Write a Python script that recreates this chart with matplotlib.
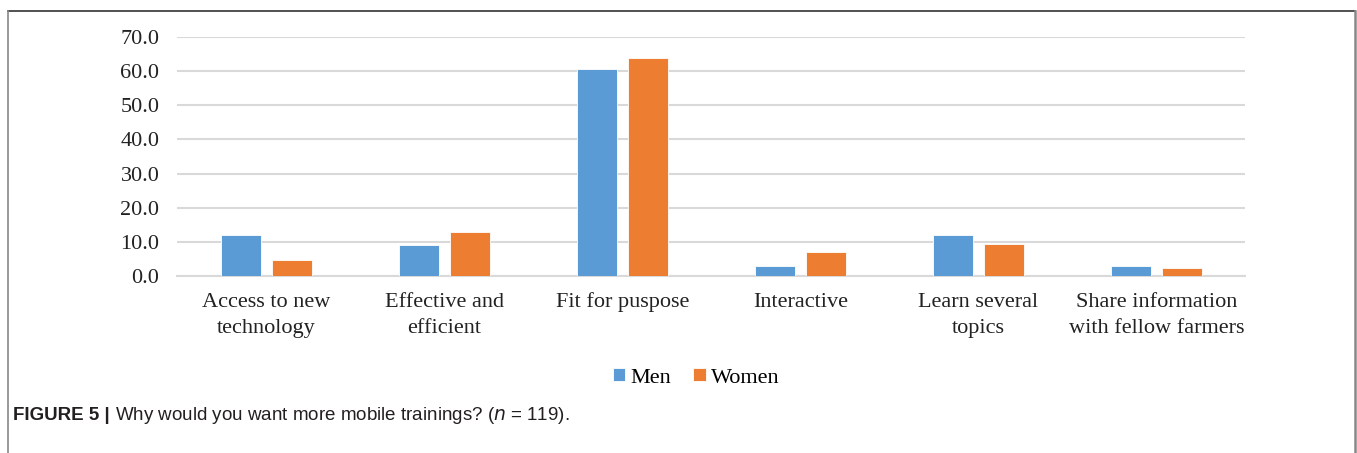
import matplotlib.pyplot as plt
import numpy as np
from matplotlib.lines import Line2D

# Reasons given for wanting more mobile trainings, % of respondents
CATEGORIES = [
    "Access to new\ntechnology",
    "Effective and\nefficient",
    "Fit for puspose",
    "Interactive",
    "Learn several\ntopics",
    "Share information\nwith fellow farmers",
]
MEN = [12.1, 9.1, 60.6, 3.0, 12.1, 3.0]
WOMEN = [4.7, 12.8, 64.0, 7.0, 9.3, 2.3]
Y_TICKS = [0, 10, 20, 30, 40, 50, 60, 70]

C_MEN = "#5b9bd5"
C_WOMEN = "#ed7d31"
C_GRID = "#d9d9d9"
C_TEXT = "#231f20"

plt.rcParams["font.family"] = ["Liberation Serif", "DejaVu Serif"]

fig = plt.figure(figsize=(13.57, 4.53), dpi=100)
ax = fig.add_axes([0.1308, 0.391, 0.7870, 0.527])

x = np.arange(len(CATEGORIES))
w = 0.225
off = 0.1425
ax.bar(x - off, MEN, w, color=C_MEN, edgecolor="white", linewidth=0.6,
       label="Men", zorder=3)
ax.bar(x + off, WOMEN, w, color=C_WOMEN, edgecolor="white", linewidth=0.6,
       label="Women", zorder=3)

ax.set_xlim(-0.5, len(CATEGORIES) - 0.5)
ax.set_ylim(0, 70)
ax.set_yticks(Y_TICKS)
ax.set_yticklabels([f"{v:.1f}" for v in Y_TICKS], fontsize=16)
ax.set_xticks(x)
ax.set_xticklabels(CATEGORIES, fontsize=16, linespacing=1.55)
ax.tick_params(axis="both", length=0, colors="#222222")
ax.tick_params(axis="y", pad=13)
ax.tick_params(axis="x", pad=12)

ax.yaxis.grid(True, color=C_GRID, linewidth=1.5, zorder=0)
for side in ("top", "right", "left"):
    ax.spines[side].set_visible(False)
ax.spines["bottom"].set_color(C_GRID)
ax.spines["bottom"].set_linewidth(1.5)

fig.legend(loc="center", bbox_to_anchor=(0.513, 0.166), ncol=2,
           frameon=False, fontsize=16, handlelength=0.55,
           handleheight=0.55, handletextpad=0.25, columnspacing=1.0)

# Caption below the chart: bold label, then the question
cap_y = 1 - 416 / 453
head = fig.text(13 / 1357, cap_y, "FIGURE 5 |", fontsize=13.5,
                fontweight="bold", family="Liberation Sans", color=C_TEXT,
                va="center")
fig.canvas.draw()
bb = head.get_window_extent(fig.canvas.get_renderer())
fig.text((bb.x1 + 5) / fig.bbox.width, cap_y,
         "Why would you want more mobile trainings? ($n$ = 119).",
         fontsize=13.5, family="Liberation Sans", color=C_TEXT, va="center")

# Frame around the figure panel
W, H = 1357, 453
fig.add_artist(Line2D([8 / W, 1355 / W], [1 - 11 / H, 1 - 11 / H],
                      color="#333333", linewidth=1.2, transform=fig.transFigure))
fig.add_artist(Line2D([8 / W, 8 / W], [0, 1 - 11 / H],
                      color="#888888", linewidth=1.2, transform=fig.transFigure))
fig.add_artist(Line2D([1355 / W, 1355 / W], [0, 1 - 11 / H],
                      color="#888888", linewidth=1.8, transform=fig.transFigure))

fig.savefig("out.png", dpi=100)
